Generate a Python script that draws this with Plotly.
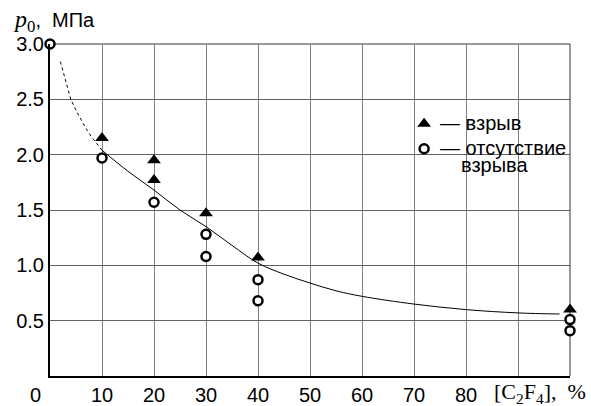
import plotly.graph_objects as go

# --- data ---
expl_x = [10, 20, 20, 30, 40, 100]
expl_y = [2.15, 1.95, 1.77, 1.47, 1.07, 0.60]

noexpl_x = [0, 10, 20, 30, 30, 40, 40, 100, 100]
noexpl_y = [3.0, 1.97, 1.57, 1.28, 1.08, 0.87, 0.68, 0.51, 0.41]

curve_dot_x = [2, 3, 4, 5, 6, 7, 8, 9, 10]
curve_dot_y = [2.84, 2.66, 2.50, 2.40, 2.31, 2.23, 2.16, 2.10, 2.04]

curve_x = [10, 15, 20, 25, 30, 35, 40, 45, 50, 55, 60, 70, 80, 90, 98]
curve_y = [2.04, 1.85, 1.68, 1.50, 1.35, 1.18, 1.02, 0.92, 0.84, 0.77, 0.72, 0.65, 0.60, 0.57, 0.56]

x_ticks = [10, 20, 30, 40, 50, 60, 70, 80, 90]
x_ticktext = ["10", "20", "30", "40", "50", "60", "70", "80", ""]
y_ticks = [0.5, 1.0, 1.5, 2.0, 2.5, 3.0]
y_ticktext = ["0.5", "1.0", "1.5", "2.0", "2.5", "3.0"]

legend_labels = ["— взрыв", "— отсутствие", "взрыва"]

SANS = "Liberation Sans, Arial, sans-serif"
SERIF = "Liberation Serif, DejaVu Serif, serif"

fig = go.Figure()

fig.add_trace(go.Scatter(x=curve_dot_x, y=curve_dot_y, mode="lines",
                         line=dict(color="black", width=1, dash="dot"),
                         showlegend=False, hoverinfo="skip"))
fig.add_trace(go.Scatter(x=curve_x, y=curve_y, mode="lines", line_shape="spline",
                         line=dict(color="black", width=1),
                         showlegend=False, hoverinfo="skip"))

fig.add_trace(go.Scatter(x=expl_x, y=expl_y, mode="markers", name=" ",
                         marker=dict(symbol="triangle-up", size=12, color="black",
                                     line=dict(width=0)),
                         cliponaxis=False))
fig.add_trace(go.Scatter(x=noexpl_x, y=noexpl_y, mode="markers", name=" ",
                         marker=dict(symbol="circle", size=9, color="white",
                                     line=dict(color="black", width=2.5)),
                         cliponaxis=False))

# legend text positions (paper coords)
lx_text = (438 - 50) / 520
lx_text2 = (459 - 50) / 520
ly1 = (376 - 123) / 332
ly2 = (376 - 148) / 332
ly3 = (376 - 165) / 332

fig.update_layout(
    width=591, height=406,
    margin=dict(l=50, r=21, t=44, b=30, autoexpand=False),
    plot_bgcolor="white", paper_bgcolor="white",
    font=dict(family=SANS, size=20, color="black"),
    showlegend=True,
    legend=dict(x=0.681, y=0.813, xanchor="left", yanchor="top",
                bgcolor="rgba(0,0,0,0)", borderwidth=0,
                font=dict(family=SANS, size=17, color="black"),
                itemwidth=30, tracegroupgap=0),
    xaxis=dict(range=[0, 100], tickvals=x_ticks, ticktext=x_ticktext,
               showgrid=True, gridcolor="#808080", gridwidth=1,
               showline=True, linecolor="black", linewidth=2,
               zeroline=False, ticks="", tickfont=dict(size=20),
               automargin=False, fixedrange=True),
    yaxis=dict(range=[0, 3], tickvals=y_ticks, ticktext=y_ticktext,
               showgrid=True, gridcolor="#606060", gridwidth=1,
               showline=True, linecolor="black", linewidth=2,
               zeroline=False, ticks="", tickfont=dict(size=20),
               ticklabelstandoff=0, automargin=False, fixedrange=True),
    shapes=[
        dict(type="line", xref="paper", yref="paper", x0=0, x1=1, y0=1, y1=1,
             line=dict(color="#333", width=1), layer="below"),
        dict(type="line", xref="paper", yref="paper", x0=1, x1=1, y0=0, y1=1,
             line=dict(color="#333", width=1), layer="below"),
    ],
    annotations=[
        dict(text=legend_labels[0], xref="paper", yref="paper", x=lx_text, y=ly1,
             showarrow=False, xanchor="left", yanchor="middle",
             font=dict(family=SANS, size=20)),
        dict(text=legend_labels[1], xref="paper", yref="paper", x=lx_text, y=ly2,
             showarrow=False, xanchor="left", yanchor="middle",
             font=dict(family=SANS, size=20)),
        dict(text=legend_labels[2], xref="paper", yref="paper", x=lx_text2, y=ly3,
             showarrow=False, xanchor="left", yanchor="middle",
             font=dict(family=SANS, size=20)),
        dict(text="0", xref="paper", yref="paper", x=0, y=0, xshift=-15, yshift=-19,
             showarrow=False, xanchor="center", yanchor="middle",
             font=dict(family=SANS, size=20)),
        dict(text="[C<sub>2</sub>F<sub>4</sub>],\u00a0\u00a0%", xref="paper", yref="paper",
             x=1, y=0, xshift=18, yshift=-17, showarrow=False,
             xanchor="right", yanchor="middle",
             font=dict(family=SERIF, size=22)),
        dict(text="<i>p</i><sub>0</sub><span style='font-family:Liberation Sans;font-size:20px'>,\u00a0\u00a0МПа</span>",
             xref="paper", yref="paper", x=0, y=1, xshift=-39, yshift=23,
             showarrow=False, xanchor="left", yanchor="middle",
             font=dict(family=SERIF, size=24)),
    ],
)

fig.write_html("out.html", config={"displayModeBar": False},
               post_script="document.body.style.margin='0px';")
